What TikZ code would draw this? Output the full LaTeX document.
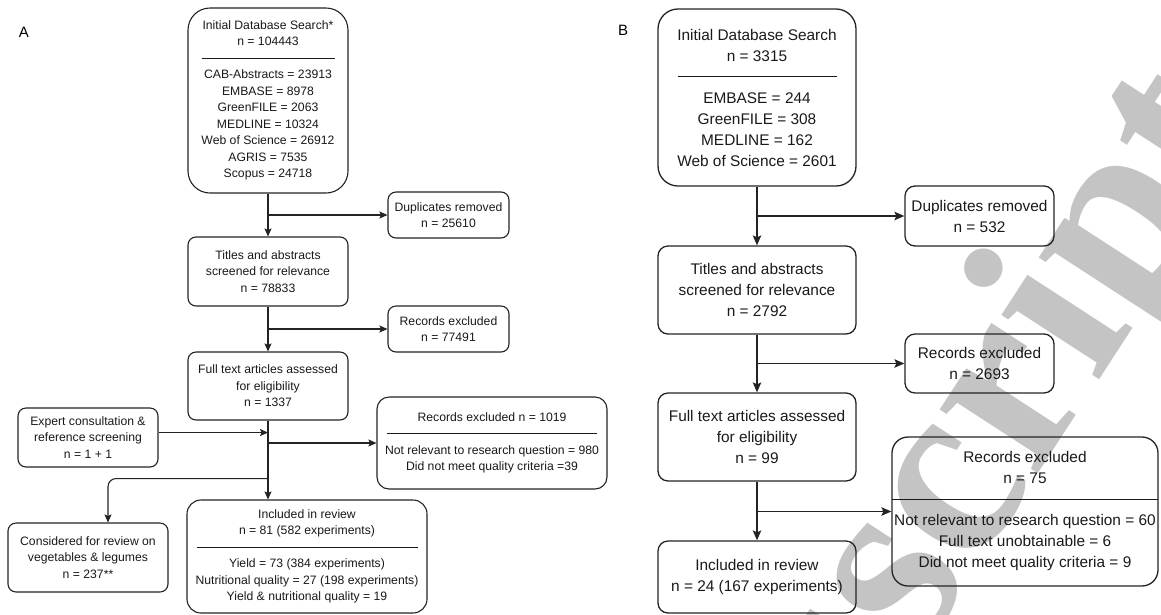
\documentclass[tikz,border=0pt]{standalone}
\usepackage{fontspec}
\setmainfont{Liberation Sans}
\newfontfamily\markfont{Liberation Serif}
\usetikzlibrary{arrows.meta,calc}
\definecolor{lineCol}{RGB}{35,35,35}
\definecolor{markCol}{RGB}{196,196,196}
\newcommand{\sepline}[1]{\rule[0.32em]{#1}{0.8pt}}
\tikzset{
  recbox/.style={draw=lineCol,line width=1.1pt,align=center,inner sep=0pt,text=black!90},
  recA/.style={recbox,rounded corners=8pt,font=\fontsize{12.2}{16.5}\selectfont},
  recB/.style={recbox,rounded corners=10pt,line width=1.3pt,font=\fontsize{15.4}{21}\selectfont},
  flow/.style={-{Stealth[length=8pt,width=7pt,inset=1.5pt]},line width=1.1pt,draw=lineCol},
  flowB/.style={flow,-{Stealth[length=10pt,width=8.5pt,inset=2pt]},line width=1.3pt},
  lab/.style={font=\fontsize{15}{18}\selectfont},
  wmark/.style={text=markCol,font=\markfont\bfseries\fontsize{255}{255}\selectfont,rotate=57,
                anchor=base west,inner sep=0pt},
}

\begin{document}
\begin{tikzpicture}[x=1pt,y=-1pt]
  \useasboundingbox (0,0) rectangle (1161,614);
  \clip (0,0) rectangle (1161,614);
  \node[wmark] (mark) at (564,1204) {Manuscript};

  \node[lab] (labA) at (24,32) {A};
  \node[recA,rounded corners=22pt,minimum width=160pt,minimum height=185pt] (a1) at (268,100.5)
    {Initial Database Search*\\ n = 104443\\ \sepline{133pt}\\ CAB-Abstracts = 23913\\ EMBASE = 8978\\
     GreenFILE = 2063\\ MEDLINE = 10324\\ Web of Science = 26912\\ AGRIS = 7535\\ Scopus = 24718};
  \node[recA,minimum width=121pt,minimum height=46pt] (adup) at (448.5,215)
    {Duplicates removed\\ n = 25610};
  \node[recA,minimum width=160pt,minimum height=69pt] (a2) at (268,271.5)
    {Titles and abstracts\\ screened for relevance\\ n = 78833};
  \node[recA,minimum width=121pt,minimum height=46pt] (aexc1) at (448.5,329)
    {Records excluded\\ n = 77491};
  \node[recA,minimum width=160pt,minimum height=68pt] (a3) at (268,386)
    {Full text articles assessed\\ for eligibility\\ n = 1337};
  \node[recA,rounded corners=12pt,minimum width=230pt,minimum height=92pt] (aexc2) at (492,443)
    {Records excluded n = 1019\\ \sepline{210pt}\\ Not relevant to research question = 980\\
     Did not meet quality criteria =39};
  \node[recA,minimum width=140pt,minimum height=59pt] (aexp) at (88,437.5)
    {Expert consultation \&\\ reference screening\\ n = 1 + 1};
  \node[recA,minimum width=160pt,minimum height=69pt] (acons) at (88,557.5)
    {Considered for review on\\ vegetables \& legumes\\ n = 237**};
  \node[recA,rounded corners=14pt,minimum width=240pt,minimum height=113pt] (a4) at (307,556.5)
    {Included in review\\ n = 81 (582 experiments)\\ \sepline{221pt}\\ Yield = 73 (384 experiments)\\
     Nutritional quality = 27 (198 experiments)\\ Yield \& nutritional quality = 19};

  \coordinate (ja1) at (a1.south |- adup.west);
  \coordinate (ja2) at (a2.south |- aexc1.west);
  \coordinate (jexp) at ($(a3.south)+(0,12)$);
  \coordinate (ja3) at (a3.south |- aexc2.west);
  \coordinate (jcons) at ($(a3.south)+(0,58)$);
  \coordinate (ja4) at (a3.south |- a4.north);
  \draw[flow] (a1.south) -- (a2.north);
  \draw[flow] (ja1) -- (adup.west);
  \draw[flow] (a2.south) -- (a3.north);
  \draw[flow] (ja2) -- (aexc1.west);
  \draw[flow] (a3.south) -- (ja4);
  \draw[flow] (aexp.east |- jexp) -- (jexp);
  \draw[flow] (ja3) -- (aexc2.west);
  \draw[flow,rounded corners=8pt] (jcons) -| ($(acons.north)+(20,0)$);

  \node[lab] (labB) at (623,30) {B};
  \node[recB,rounded corners=20pt,minimum width=198pt,minimum height=177pt] (b1) at (757,97.5)
    {Initial Database Search\\ n = 3315\\ \sepline{159pt}\\ EMBASE = 244\\ GreenFILE = 308\\
     MEDLINE = 162\\ Web of Science = 2601};
  \node[recB,minimum width=149pt,minimum height=60pt] (bdup) at (979.5,216)
    {Duplicates removed\\ n = 532};
  \node[recB,minimum width=198pt,minimum height=88pt] (b2) at (757,290)
    {Titles and abstracts\\ screened for relevance\\ n = 2792};
  \node[recB,minimum width=149pt,minimum height=59pt] (bexc1) at (979.5,363.5)
    {Records excluded\\ n = 2693};
  \node[recB,minimum width=198pt,minimum height=88pt] (b3) at (757,437)
    {Full text articles assessed\\ for eligibility\\ n = 99};
  \node[recB,rounded corners=16pt,minimum width=266pt,minimum height=149pt] (bexc2) at (1025,511.5)
    {Records excluded\\ n = 75\\ \sepline{266pt}\\ Not relevant to research question = 60\\
     Full text unobtainable = 6\\ Did not meet quality criteria = 9};
  \node[recB,minimum width=198pt,minimum height=72pt] (b4) at (757,577)
    {Included in review\\ n = 24 (167 experiments)};

  \coordinate (jb1) at (b1.south |- bdup.west);
  \coordinate (jb2) at (b2.south |- bexc1.west);
  \coordinate (jb3) at (b3.south |- bexc2.west);
  \draw[flowB] (b1.south) -- (b2.north);
  \draw[flowB] (jb1) -- (bdup.west);
  \draw[flowB] (b2.south) -- (b3.north);
  \draw[flowB] (jb2) -- (bexc1.west);
  \draw[flowB] (b3.south) -- (b4.north);
  \draw[flowB] (jb3) -- (bexc2.west);
\end{tikzpicture}
\end{document}
